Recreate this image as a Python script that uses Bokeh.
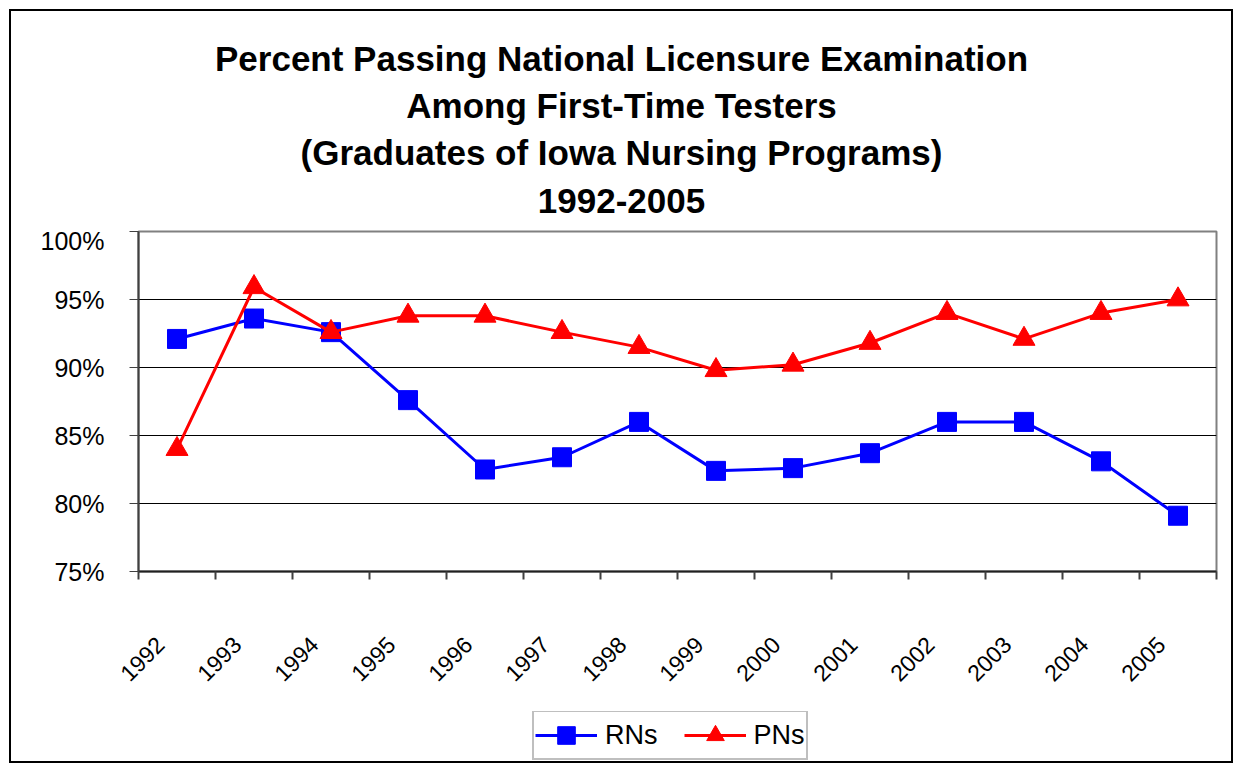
from bokeh.plotting import figure
from bokeh.layouts import column
from bokeh.models import FixedTicker, Legend, LegendItem, Label
from bokeh.embed import file_html
from bokeh.resources import INLINE
import math

years = ["1992", "1993", "1994", "1995", "1996", "1997", "1998",
         "1999", "2000", "2001", "2002", "2003", "2004", "2005"]
rns = [92.1, 93.6, 92.6, 87.6, 82.5, 83.4, 86.0, 82.4, 82.6, 83.7, 86.0, 86.0, 83.1, 79.1]
pns = [84.0, 95.9, 92.6, 93.8, 93.8, 92.6, 91.5, 89.8, 90.2, 91.8, 94.0, 92.1, 94.0, 95.0]
y_ticks = [75, 80, 85, 90, 95, 100]
title_lines = ["Percent Passing National Licensure Examination",
               "Among First-Time Testers",
               "(Graduates of Iowa Nursing Programs)",
               "1992-2005"]

n = len(years)
xs = [i + 0.5 for i in range(n)]
label_pos = [x - 0.22 for x in xs]   # tick-label anchors, nudged left like the original
font = "Liberation Sans"
BLUE, RED = "#0000FF", "#FF0000"

W = 1220
TH, MH, LH = 215, 485, 50
LEFT, RIGHT = 127, 15   # borders of the chart frame (shared by all strips)

# ---------- title strip ----------
tfig = figure(width=W, height=TH, output_backend="svg", toolbar_location=None,
              x_range=(LEFT, W - RIGHT), y_range=(0, TH),
              x_axis_type=None, y_axis_type=None,
              min_border_left=LEFT, min_border_right=RIGHT,
              min_border_top=0, min_border_bottom=0)
tfig.outline_line_color = None
tfig.grid.visible = False
baselines = [168, 121, 74, 26]
for line, yb in zip(title_lines, baselines):
    tfig.add_layout(Label(x=610, y=yb, text=line, text_font=font,
                          text_font_style="bold", text_font_size="35px",
                          text_align="center", text_baseline="alphabetic",
                          text_color="black"))

# ---------- main chart ----------
p = figure(width=W, height=MH, output_backend="svg", toolbar_location=None,
           x_range=(0, n), y_range=(75, 100),
           min_border_left=LEFT, min_border_right=RIGHT,
           min_border_top=5, min_border_bottom=140)
p.outline_line_color = "#808080"
p.outline_line_width = 2

p.xaxis.ticker = FixedTicker(ticks=label_pos, minor_ticks=list(range(n + 1)))
p.xaxis.major_label_overrides = {x: y for x, y in zip(label_pos, years)}
p.xaxis.major_label_orientation = math.pi / 4
p.xaxis.major_tick_out = 0
p.xaxis.major_tick_in = 0
p.xaxis.major_tick_line_color = None
p.xaxis.minor_tick_out = 8
p.xaxis.minor_tick_in = 0
p.xaxis.minor_tick_line_color = "#404040"
p.xaxis.minor_tick_line_width = 2
p.xaxis.axis_line_color = "#202020"
p.xaxis.axis_line_width = 2
p.xaxis.major_label_text_font = font
p.xaxis.major_label_text_font_size = "23px"
p.xaxis.major_label_text_color = "black"
p.xaxis.major_label_standoff = 61

p.yaxis.ticker = FixedTicker(ticks=y_ticks)
p.yaxis.major_label_overrides = {v: f"{v}%" for v in y_ticks}
p.yaxis.minor_tick_line_color = None
p.yaxis.major_tick_out = 9
p.yaxis.major_tick_in = 0
p.yaxis.major_tick_line_color = "#404040"
p.yaxis.axis_line_color = "#404040"
p.yaxis.axis_line_width = 2
p.yaxis.major_label_text_font = font
p.yaxis.major_label_text_font_size = "25px"
p.yaxis.major_label_text_color = "black"
p.yaxis.major_label_standoff = 25

p.xgrid.visible = False
p.ygrid.ticker = FixedTicker(ticks=[t for t in y_ticks if 75 < t < 100])
p.ygrid.grid_line_color = "black"
p.ygrid.grid_line_width = 1

p.line(xs, rns, line_color=BLUE, line_width=3)
p.scatter(xs, rns, marker="square", size=19, fill_color=BLUE, line_color=BLUE)
p.line(xs, pns, line_color=RED, line_width=3)
p.scatter(xs, pns, marker="triangle", size=22, fill_color=RED, line_color=RED)

# ---------- legend strip ----------
lfig = figure(width=W, height=LH, output_backend="svg", toolbar_location=None,
              x_range=(0, 1), y_range=(0, 1), x_axis_type=None, y_axis_type=None,
              min_border_left=LEFT, min_border_right=RIGHT,
              min_border_top=0, min_border_bottom=0)
lfig.outline_line_color = None
lfig.grid.visible = False
# legend swatches (data lies outside this strip's range; only the legend glyphs show)
l1 = lfig.line(xs, rns, line_color=BLUE, line_width=3)
m1 = lfig.scatter(xs, rns, marker="square", size=19, fill_color=BLUE, line_color=BLUE)
l2 = lfig.line(xs, pns, line_color=RED, line_width=3)
m2 = lfig.scatter(xs, pns, marker="triangle", size=22, fill_color=RED, line_color=RED)
legend = Legend(items=[LegendItem(label="RNs", renderers=[l1, m1]),
                       LegendItem(label="PNs", renderers=[l2, m2])],
                orientation="horizontal", location=(394, 1),
                border_line_color="#808080", border_line_width=2,
                label_text_font=font, label_text_font_size="27px",
                label_text_color="black",
                glyph_width=62, glyph_height=44, spacing=26,
                padding=1, margin=0, label_standoff=8)
lfig.add_layout(legend, "center")

layout = column(tfig, p, lfig,
                styles={"border": "2px solid #000", "margin": "9px 0 0 9px"})
open("out.html", "w").write(file_html(layout, INLINE))
